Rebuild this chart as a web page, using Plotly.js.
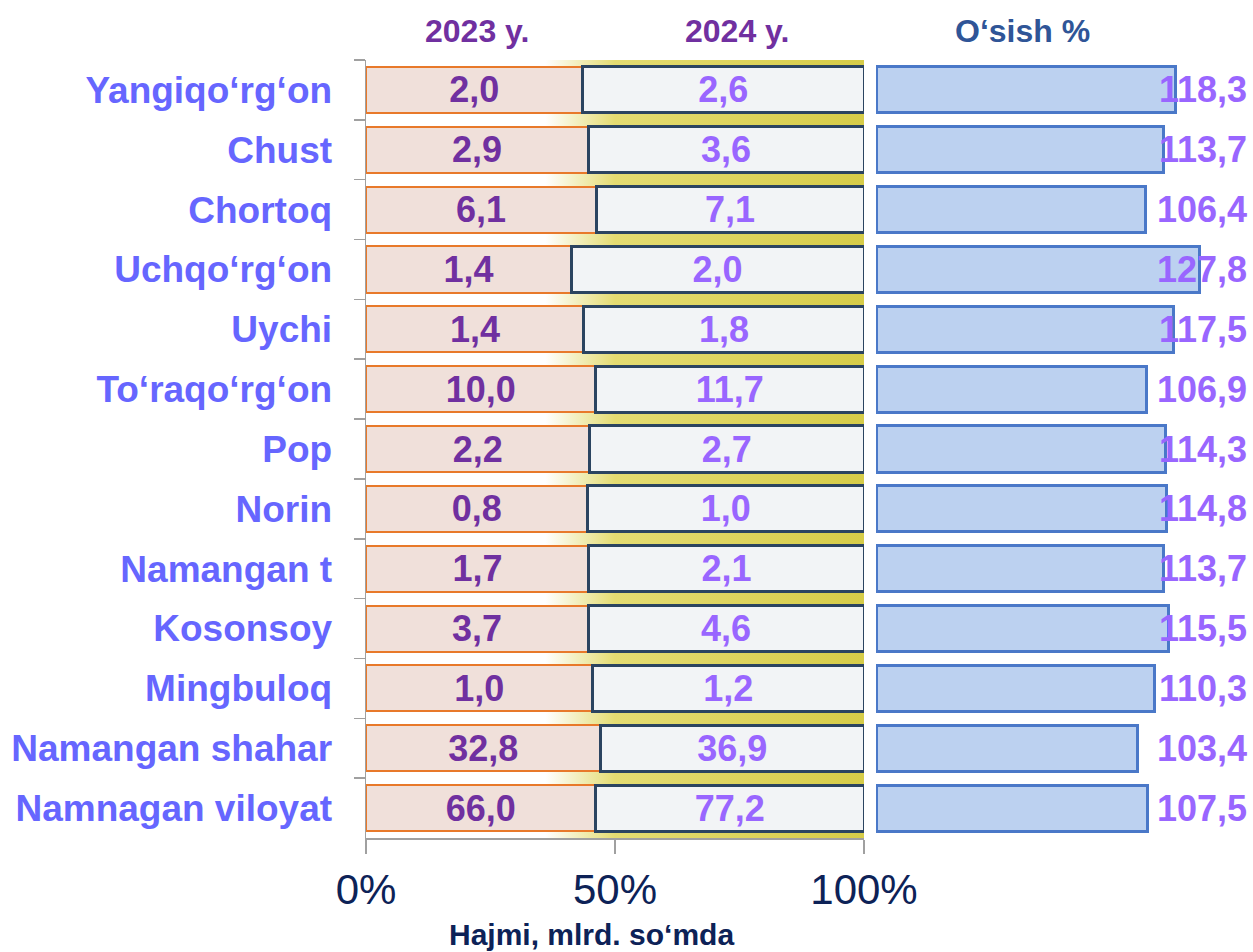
<!DOCTYPE html>
<html>
<head>
<meta charset="utf-8">
<script src="https://cdn.plot.ly/plotly-3.0.1.min.js"></script>
<style>html,body{margin:0;padding:0;background:#fff;}#chart{width:1253px;height:952px;}</style>
</head>
<body>
<div id="chart"></div>
<script>
const categories = ["Yangiqo‘rg‘on","Chust","Chortoq","Uchqo‘rg‘on","Uychi","To‘raqo‘rg‘on","Pop","Norin","Namangan t","Kosonsoy","Mingbuloq","Namangan shahar","Namnagan viloyat"];
const values2023 = [2.0,2.9,6.1,1.4,1.4,10.0,2.2,0.8,1.7,3.7,1.0,32.8,66.0];
const values2024 = [2.6,3.6,7.1,2.0,1.8,11.7,2.7,1.0,2.1,4.6,1.2,36.9,77.2];
const growth = [118.3,113.7,106.4,127.8,117.5,106.9,114.3,114.8,113.7,115.5,110.3,103.4,107.5];
const xTickVals = [0,50,100];
const xTickText = ["0%","50%","100%"];
const seriesNames = ["2023 y.","2024 y.","O‘sish %"];

const fmt = v => v.toFixed(1).replace('.', ',');
const share23 = values2023.map((v,i)=>100*v/(v+values2024[i]));
const share24 = values2024.map((v,i)=>100*v/(v+values2023[i]));
const FONT = '"Liberation Sans", Arial, sans-serif';

const bgSvg = '<svg xmlns="http://www.w3.org/2000/svg" width="100" height="100" viewBox="0 0 100 100" preserveAspectRatio="none">' +
  '<defs><linearGradient id="g" x1="0" y1="0" x2="1" y2="0">' +
  '<stop offset="0" stop-color="#ffffff"/><stop offset="0.36" stop-color="#ffffff"/>' +
  '<stop offset="0.5" stop-color="#e4dc72"/><stop offset="1" stop-color="#d6cc48"/></linearGradient></defs>' +
  '<rect x="0" y="0" width="100" height="100" fill="url(#g)"/></svg>';

const traces = [
  {type:'bar', orientation:'h', name:seriesNames[0], y:categories, x:share23,
   text:values2023.map(fmt), textposition:'inside', insidetextanchor:'middle', constraintext:'none', textangle:0,
   textfont:{family:FONT, size:36, color:'#7030a0', weight:'bold'},
   marker:{color:'#f0e0da', line:{color:'#e8792a', width:2}}, width:0.77, xaxis:'x', yaxis:'y', hoverinfo:'skip'},
  {type:'bar', orientation:'h', name:seriesNames[1], y:categories, x:share24,
   text:values2024.map(fmt), textposition:'inside', insidetextanchor:'middle', constraintext:'none', textangle:0,
   textfont:{family:FONT, size:36, color:'#9966ff', weight:'bold'},
   marker:{color:'#f2f4f6', line:{color:'#2b4460', width:3}}, width:0.77, xaxis:'x', yaxis:'y', hoverinfo:'skip'},
  {type:'bar', orientation:'h', name:seriesNames[2], y:categories, x:growth,
   marker:{color:'#bcd1f0', line:{color:'#4a78c8', width:3}}, width:0.77, xaxis:'x2', yaxis:'y', hoverinfo:'skip'}
];

const annotations = [
  {text:seriesNames[0], xref:'paper', yref:'paper', x:477/1253, y:1-31/952, xanchor:'center', yanchor:'middle', showarrow:false, font:{family:FONT, size:32, color:'#7030a0', weight:'bold'}},
  {text:seriesNames[1], xref:'paper', yref:'paper', x:737/1253, y:1-31/952, xanchor:'center', yanchor:'middle', showarrow:false, font:{family:FONT, size:32, color:'#7030a0', weight:'bold'}},
  {text:seriesNames[2], xref:'paper', yref:'paper', x:1022/1253, y:1-31/952, xanchor:'center', yanchor:'middle', showarrow:false, font:{family:FONT, size:32, color:'#2f5597', weight:'bold'}},
  {text:'Hajmi, mlrd. so‘mda', xref:'paper', yref:'paper', x:591/1253, y:0, xanchor:'center', yanchor:'bottom', showarrow:false, borderpad:0, font:{family:FONT, size:30, color:'#0d2257', weight:'bold'}}
];
growth.forEach((g,i)=>{
  annotations.push({text:fmt(g), xref:'paper', yref:'y', x:1249/1253, xanchor:'right', y:categories[i], showarrow:false,
    font:{family:FONT, size:36, color:'#9966ff', weight:'bold'}});
});

const layout = {
  width:1253, height:952,
  margin:{l:0, r:0, t:0, b:0},
  paper_bgcolor:'#ffffff', plot_bgcolor:'rgba(0,0,0,0)',
  barmode:'stack', showlegend:false,
  font:{family:FONT},
  xaxis:{domain:[366/1253, 864/1253], range:[0,100], tickvals:xTickVals, ticktext:xTickText,
    ticks:'outside', ticklen:14, tickcolor:'#a0a0a0', tickwidth:1.5, showline:true, linecolor:'#a0a0a0', linewidth:1.5,
    showgrid:false, zeroline:false, fixedrange:true, ticklabelstandoff:0,
    tickfont:{family:FONT, size:42, color:'#0d2257'}},
  xaxis2:{domain:[876/1253, 1230/1253], range:[0,140], anchor:'y', visible:false, fixedrange:true},
  yaxis:{domain:[1-838/952, 1-60/952], categoryorder:'array', categoryarray:categories, autorange:'reversed',
    ticks:'outside', tickson:'boundaries', ticklen:11, tickcolor:'#a0a0a0', tickwidth:1.5,
    showline:true, linecolor:'#a0a0a0', linewidth:1.5, showgrid:false, zeroline:false, fixedrange:true,
    ticklabelstandoff:25,
    tickfont:{family:FONT, size:37, color:'#6666ff', weight:'bold'}},
  annotations:annotations,
  images:[{source:'data:image/svg+xml;charset=utf-8,' + encodeURIComponent(bgSvg), xref:'paper', yref:'paper',
    x:366/1253, y:1-60/952, sizex:498/1253, sizey:(838-60)/952, sizing:'stretch', xanchor:'left', yanchor:'top', layer:'below'}]
};

Plotly.newPlot('chart', traces, layout, {displayModeBar:false, staticPlot:true});
</script>
</body>
</html>
